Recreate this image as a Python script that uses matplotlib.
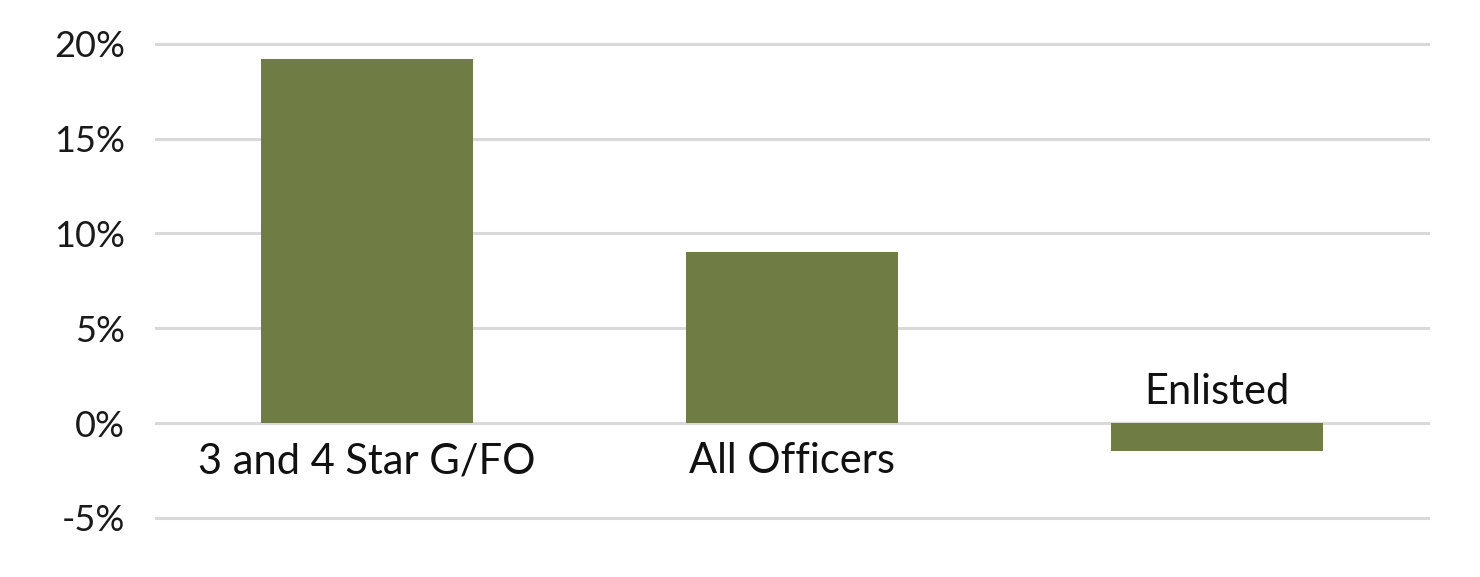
import matplotlib
matplotlib.use("Agg")
import matplotlib.pyplot as plt
from matplotlib.ticker import FuncFormatter

# dane
kategorie = ["3 and 4 Star G/FO", "All Officers", "Enlisted"]
wartosci = [19.2, 9.0, -1.5]
ticki_y = [-5, 0, 5, 10, 15, 20]

plt.rcParams['font.family'] = ['Lato', 'DejaVu Sans']

fig = plt.figure(figsize=(14.8, 5.77), dpi=100)
ax = fig.add_axes([0.1044, 0.0697, 0.8615, 0.8873])

pozycje = list(range(len(kategorie)))
ax.bar(pozycje, wartosci, width=0.5, color='#6F7D45', zorder=3)

ax.set_xlim(-0.5, len(kategorie) - 0.5)
ax.set_ylim(-6, 21)
ax.set_yticks(ticki_y)
ax.yaxis.set_major_formatter(FuncFormatter(lambda v, p: f"{v:.0f}%"))
ax.tick_params(axis='y', length=0, pad=21, labelsize=26, labelcolor='#1a1a1a')
ax.set_xticks([])
ax.grid(axis='y', color='#D9D9D9', linewidth=2.2, zorder=0)
for s in ax.spines.values():
    s.set_visible(False)

# etykiety kategorii przy linii zera
for x, k, w in zip(pozycje, kategorie, wartosci):
    off = -36 if w >= 0 else 14
    ax.annotate(k, (x, 0), xytext=(0, off), textcoords='offset points',
                ha='center', va='baseline', fontsize=30, color='#111111')

fig.savefig("out.png", dpi=100)
